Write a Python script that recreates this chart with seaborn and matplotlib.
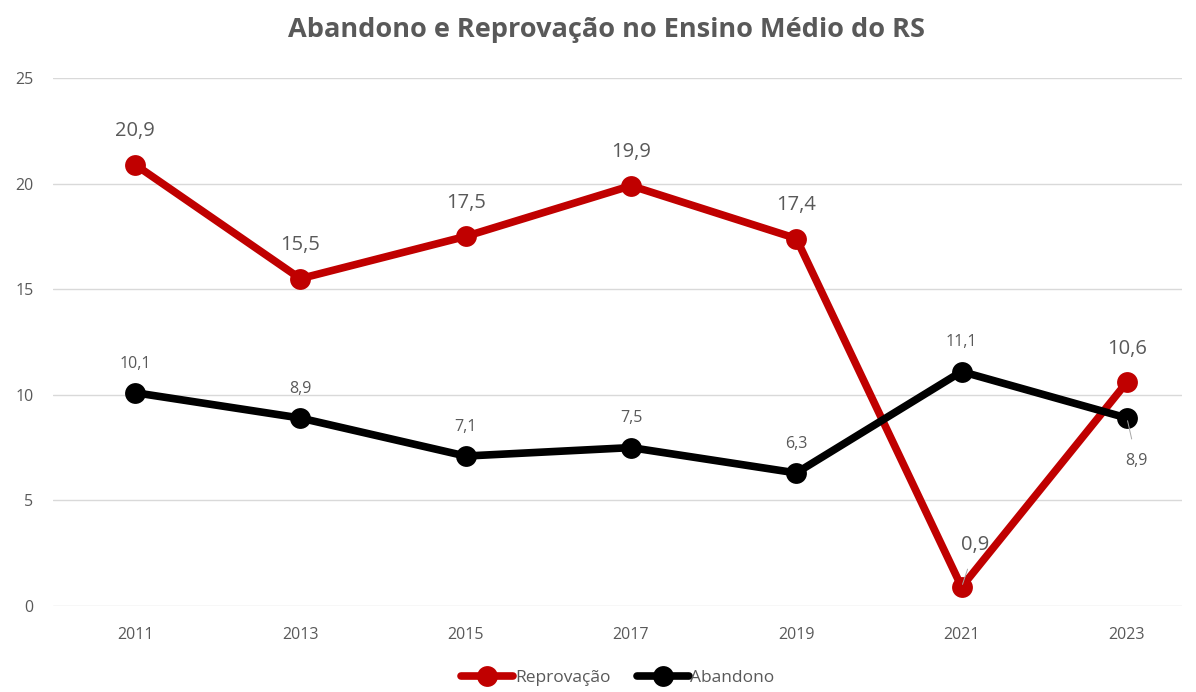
import matplotlib
matplotlib.use("Agg")
import matplotlib.pyplot as plt
import seaborn as sns
import pandas as pd
from matplotlib.lines import Line2D

years = ["2011", "2013", "2015", "2017", "2019", "2021", "2023"]
reprovacao = [20.9, 15.5, 17.5, 19.9, 17.4, 0.9, 10.6]
abandono = [10.1, 8.9, 7.1, 7.5, 6.3, 11.1, 8.9]
series_names = ["Reprovação", "Abandono"]
colors = ["#C00000", "#000000"]
title = "Abandono e Reprovação no Ensino Médio do RS"
yticks = [0, 5, 10, 15, 20, 25]

sns.set_theme(style="white")
plt.rcParams['font.family'] = ['Open Sans', 'DejaVu Sans']

idx = list(range(len(years)))
df = pd.DataFrame({
    "x": idx * 2,
    "valor": reprovacao + abandono,
    "serie": [series_names[0]] * len(years) + [series_names[1]] * len(years),
})

fig = plt.figure(figsize=(11.96, 6.92), dpi=100)
ax = fig.add_axes([53/1196, 1 - 606/692, (1182 - 53)/1196, (606 - 78)/692])

sns.lineplot(data=df, x="x", y="valor", hue="serie", hue_order=series_names,
             palette=colors, marker="o", markersize=15, linewidth=5.5,
             markeredgewidth=0, ax=ax, legend=False, zorder=3)

ax.set_xlim(-0.496, 6.333)
ax.set_ylim(0, 25)
ax.set_yticks(yticks)
ax.set_yticklabels([str(t) for t in yticks])
ax.set_xticks(idx)
ax.set_xticklabels(years)
ax.tick_params(axis="both", length=0, colors="#595959", labelsize=11.5)
ax.tick_params(axis="y", pad=14)
ax.tick_params(axis="x", pad=15)
ax.grid(axis="y", color="#d9d9d9", linewidth=1)
ax.set_axisbelow(True)
for s in ax.spines.values():
    s.set_visible(False)
ax.set_xlabel("")
ax.set_ylabel("")

gray = "#595959"
# Reprovação labels
for i, v in enumerate(reprovacao):
    lab = f"{v:.1f}".replace(".", ",")
    if i == 5:
        ax.annotate(lab, xy=(i, v), xytext=(10, 30), textcoords="offset points",
                    ha="center", va="center", fontsize=14.5, color=gray, zorder=6,
                    arrowprops=dict(arrowstyle="-", color="#a6a6a6", lw=0.7, shrinkA=8, shrinkB=2))
    else:
        ax.annotate(lab, xy=(i, v), xytext=(0, 24), textcoords="offset points",
                    ha="center", va="center", fontsize=14.5, color=gray, zorder=6)
# Abandono labels
for i, v in enumerate(abandono):
    lab = f"{v:.1f}".replace(".", ",")
    if i == 6:
        ax.annotate(lab, xy=(i, v), xytext=(7, -31), textcoords="offset points",
                    ha="center", va="center", fontsize=11.5, color=gray, zorder=6,
                    arrowprops=dict(arrowstyle="-", color="#a6a6a6", lw=0.7, shrinkA=8, shrinkB=2))
    else:
        ax.annotate(lab, xy=(i, v), xytext=(0, 21), textcoords="offset points",
                    ha="center", va="center", fontsize=11.5, color=gray, zorder=6)

fig.text(606/1196, 1 - 30/692, title, ha="center", va="center",
         fontsize=19.5, fontweight="bold", color=gray)

handles = [Line2D([0], [0], color=c, lw=5.5, marker="o", markersize=15, markeredgewidth=0)
           for c in colors]
leg = fig.legend(handles, series_names, loc="center", bbox_to_anchor=(618/1196, 1 - 678/692),
                 ncol=2, frameon=False, fontsize=12.5, handlelength=3.0, handletextpad=0.1,
                 columnspacing=1.5)
for t in leg.get_texts():
    t.set_color(gray)

fig.savefig("out.png", dpi=100)
